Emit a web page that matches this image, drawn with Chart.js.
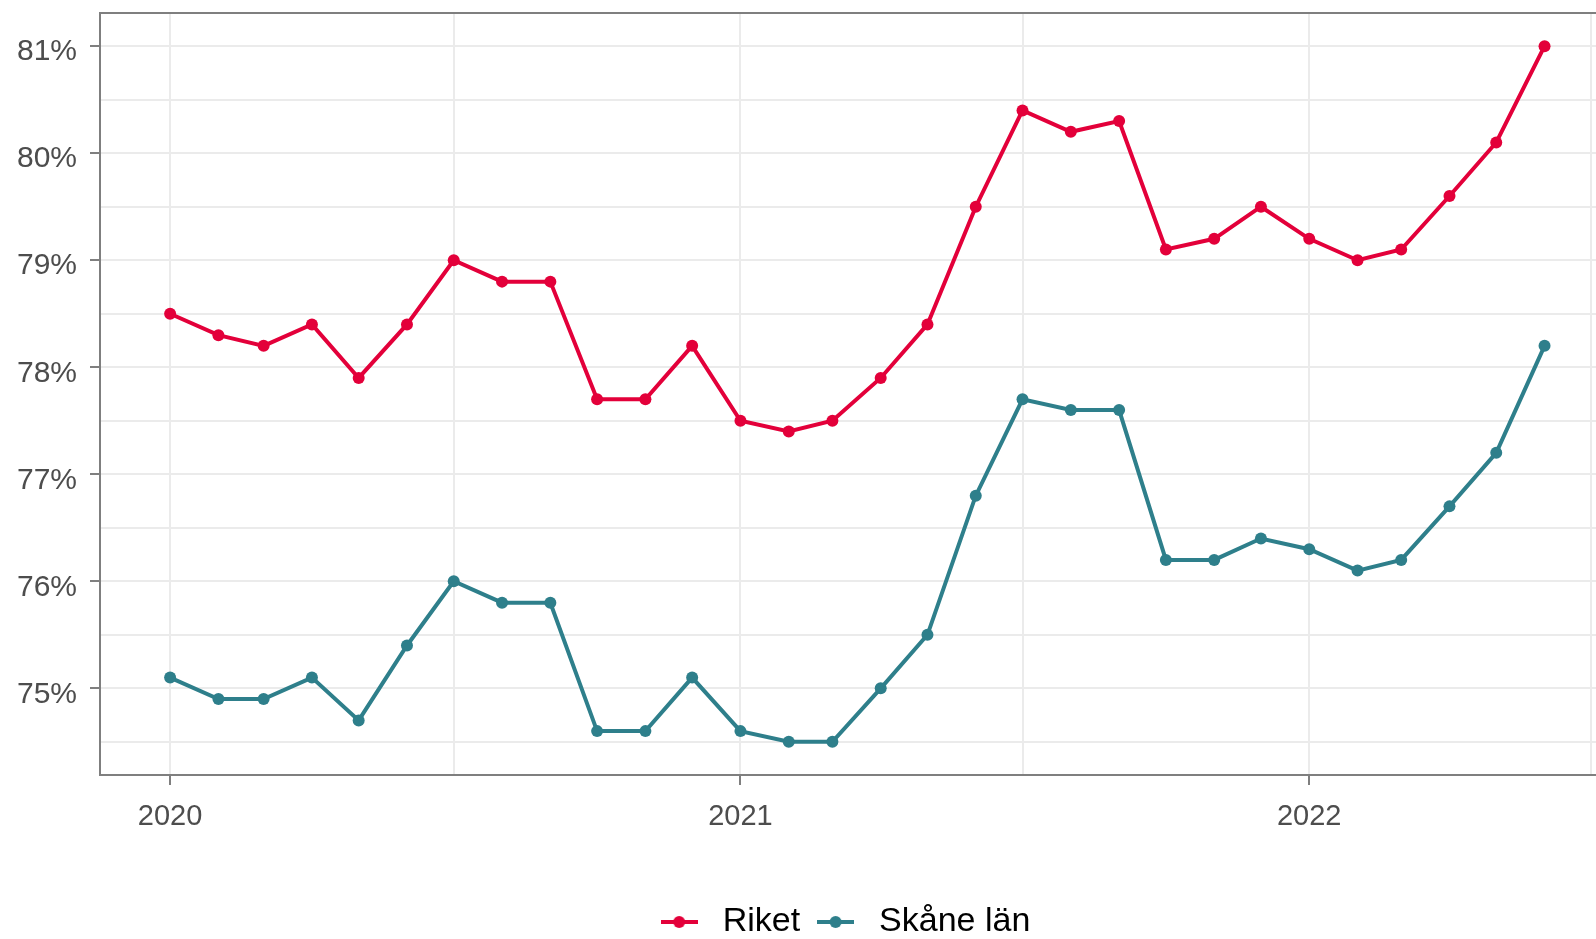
<!DOCTYPE html>
<html>
<head>
<meta charset="utf-8">
<script src="https://cdn.jsdelivr.net/npm/chart.js@4"></script>
<style>
  html, body { margin: 0; padding: 0; overflow: hidden; background: #fff; }
  #wrap { width: 1683px; height: 949px; position: relative; }
</style>
</head>
<body>
<div id="wrap"><canvas id="chart"></canvas></div>
<script>
// monthly values, Jan 2020 - Jun 2022
const months = [
  '2020-01', '2020-02', '2020-03', '2020-04', '2020-05', '2020-06',
  '2020-07', '2020-08', '2020-09', '2020-10', '2020-11', '2020-12',
  '2021-01', '2021-02', '2021-03', '2021-04', '2021-05', '2021-06',
  '2021-07', '2021-08', '2021-09', '2021-10', '2021-11', '2021-12',
  '2022-01', '2022-02', '2022-03', '2022-04', '2022-05', '2022-06'
];
const riket = [
  78.5, 78.3, 78.2, 78.4, 77.9, 78.4, 79.0, 78.8, 78.8, 77.7, 77.7, 78.2,
  77.5, 77.4, 77.5, 77.9, 78.4, 79.5, 80.4, 80.2, 80.3, 79.1, 79.2, 79.5,
  79.2, 79.0, 79.1, 79.6, 80.1, 81.0
];
const skane = [
  75.1, 74.9, 74.9, 75.1, 74.7, 75.4, 76.0, 75.8, 75.8, 74.6, 74.6, 75.1,
  74.6, 74.5, 74.5, 75.0, 75.5, 76.8, 77.7, 77.6, 77.6, 76.2, 76.2, 76.4,
  76.3, 76.1, 76.2, 76.7, 77.2, 78.2
];
const xMajor = ['2020-01', '2021-01', '2022-01'];
const xMinor = ['2020-07', '2021-07', '2022-07'];
const yMajor = [75, 76, 77, 78, 79, 80, 81];
const yMinor = [74.5, 75.5, 76.5, 77.5, 78.5, 79.5, 80.5];

const RED = '#E3003A';
const TEAL = '#2E7F8B';
const FONT = '"Liberation Sans", Arial, sans-serif';

// month string -> day number, so the linear axis works like a date axis
function dayNum(m) {
  const [y, mo] = m.split('-').map(Number);
  return Date.UTC(y, mo - 1, 1) / 86400000;
}

function legendKey(color) {
  const c = document.createElement('canvas');
  c.width = 37; c.height = 14;
  const g = c.getContext('2d');
  g.strokeStyle = color; g.lineWidth = 4;
  g.beginPath(); g.moveTo(0, 7); g.lineTo(37, 7); g.stroke();
  g.fillStyle = color;
  g.beginPath(); g.arc(18.5, 7, 6, 0, Math.PI * 2); g.fill();
  return c;
}

const topBorder = {
  id: 'topBorder',
  afterDraw(chart) {
    const { ctx, chartArea } = chart;
    ctx.save();
    ctx.strokeStyle = '#7f7f7f';
    ctx.lineWidth = 2;
    ctx.beginPath();
    ctx.moveTo(chartArea.left, chartArea.top);
    ctx.lineTo(chartArea.right, chartArea.top);
    ctx.stroke();
    ctx.restore();
  }
};

const majorX = xMajor.map(dayNum);
const xMin = dayNum('2020-01') - 45;

new Chart(document.getElementById('chart').getContext('2d'), {
  type: 'line',
  data: {
    datasets: [
      { label: 'Riket', data: months.map((m, i) => ({ x: dayNum(m), y: riket[i] })), borderColor: RED, backgroundColor: RED },
      { label: 'Skåne län', data: months.map((m, i) => ({ x: dayNum(m), y: skane[i] })), borderColor: TEAL, backgroundColor: TEAL }
    ]
  },
  options: {
    responsive: true,
    maintainAspectRatio: false,
    animation: false,
    layout: { padding: { top: 13, left: 0, right: 0, bottom: 0 } },
    elements: {
      line: { borderWidth: 4, tension: 0 },
      point: { radius: 6, borderWidth: 0, hoverRadius: 6 }
    },
    plugins: {
      tooltip: { enabled: false },
      legend: {
        position: 'bottom',
        labels: {
          usePointStyle: true,
          pointStyleWidth: 53,
          padding: 9,
          color: '#000',
          font: { size: 34, family: FONT },
          generateLabels: chart => chart.data.datasets.map((ds, i) => ({
            text: ds.label,
            pointStyle: legendKey(ds.borderColor),
            fillStyle: ds.borderColor,
            strokeStyle: ds.borderColor,
            lineWidth: 1,
            hidden: false,
            datasetIndex: i
          }))
        }
      }
    },
    scales: {
      x: {
        type: 'linear',
        min: xMin,
        max: xMin + 1012,
        afterFit: s => { s.height = 121; s.paddingLeft = 0; s.paddingRight = 0; },
        afterBuildTicks: s => {
          s.ticks = [...xMajor, ...xMinor].map(dayNum).sort((a, b) => a - b).map(v => ({ value: v }));
        },
        border: { color: '#7f7f7f', width: 2 },
        grid: {
          color: '#ebebeb',
          lineWidth: 2,
          tickLength: 10,
          tickWidth: 2,
          tickColor: c => majorX.includes(c.tick.value) ? '#7f7f7f' : 'rgba(0,0,0,0)'
        },
        ticks: {
          padding: 15,
          color: '#4d4d4d',
          font: { size: 29, family: FONT },
          maxRotation: 0,
          callback: v => majorX.includes(v) ? String(new Date(v * 86400000).getUTCFullYear()) : ''
        }
      },
      y: {
        min: 74.19,
        max: 81.31,
        afterFit: s => { s.width = 100; s.paddingTop = 0; s.paddingBottom = 0; },
        afterBuildTicks: s => {
          s.ticks = [...yMajor, ...yMinor].sort((a, b) => a - b).map(v => ({ value: v }));
        },
        border: { color: '#7f7f7f', width: 2 },
        grid: {
          color: '#ebebeb',
          lineWidth: 2,
          tickLength: 10,
          tickWidth: 2,
          tickColor: c => yMajor.includes(c.tick.value) ? '#7f7f7f' : 'rgba(0,0,0,0)'
        },
        ticks: {
          padding: 13,
          labelOffset: 6,
          color: '#4d4d4d',
          font: { size: 30, family: FONT },
          callback: v => yMajor.includes(v) ? v + '%' : ''
        }
      }
    }
  },
  plugins: [topBorder]
});
</script>
</body>
</html>
